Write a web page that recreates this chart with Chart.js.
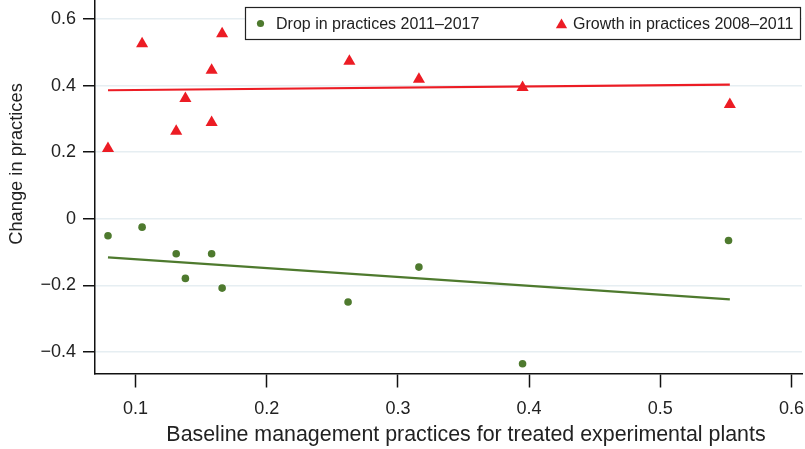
<!DOCTYPE html>
<html>
<head>
<meta charset="utf-8">
<script src="https://cdn.jsdelivr.net/npm/chart.js@4/dist/chart.umd.min.js"></script>
<style>
  html, body { margin: 0; padding: 0; background: #fff; }
  #wrap { width: 805px; height: 449px; }
</style>
</head>
<body>
<div id="wrap"><canvas id="chart"></canvas></div>
<script>
// scatter data
const dropX = [0.079, 0.105, 0.131, 0.138, 0.158, 0.166, 0.262, 0.316, 0.395, 0.552];
const dropY = [-0.051, -0.025, -0.105, -0.179, -0.105, -0.208, -0.250, -0.145, -0.435, -0.065];
const growthX = [0.079, 0.105, 0.131, 0.138, 0.158, 0.158, 0.166, 0.263, 0.316, 0.395, 0.553];
const growthY = [0.211, 0.526, 0.263, 0.361, 0.446, 0.289, 0.556, 0.473, 0.419, 0.394, 0.343];

// fitted lines (end points)
const fitX = [0.079, 0.553];
const dropFit = [-0.116, -0.242];
const growthFit = [0.386, 0.403];

const xTicks = [0.1, 0.2, 0.3, 0.4, 0.5, 0.6];
const yTicks = [-0.4, -0.2, 0, 0.2, 0.4, 0.6];
const seriesLabels = ['Drop in practices 2011\u20132017', 'Growth in practices 2008\u20132011'];
const xTitle = 'Baseline management practices for treated experimental plants';
const yTitle = 'Change in practices';

const green = '#4e7a2e';
const red = '#ec1c24';
const fontFam = '"Liberation Sans", Arial, Helvetica, sans-serif';

const pts = (xs, ys) => xs.map((x, i) => ({ x, y: ys[i] }));
const fmt = v => {
    const r = Math.round(v * 10) / 10;
    if (r === 0) return '0';
    return (r < 0 ? '\u2212' : '') + Math.abs(r).toFixed(1);
};

// legend box inside the plot + axis titles placed like the original
const boxLegend = {
    id: 'boxLegend',
    afterDraw(chart) {
        const ctx = chart.ctx;
        ctx.save();
        ctx.strokeStyle = '#222'; ctx.lineWidth = 1.2;
        ctx.fillStyle = '#fff';
        ctx.fillRect(245, 7, 555, 32);
        ctx.strokeRect(245.5, 7.5, 555, 32);
        const items = [
            { style: 'circle', r: 3.6, color: green, mx: 260.5, my: 23.5, tx: 276, text: seriesLabels[0] },
            { style: 'triangle', r: 6.5, color: red, mx: 561.5, my: 25, tx: 573, text: seriesLabels[1] }
        ];
        ctx.font = '16px ' + fontFam;
        ctx.textBaseline = 'middle';
        items.forEach(it => {
            ctx.fillStyle = it.color; ctx.strokeStyle = it.color;
            Chart.helpers.drawPoint(ctx, { pointStyle: it.style, radius: it.r, rotation: 0, borderWidth: 0 }, it.mx, it.my);
            ctx.fillStyle = '#222';
            ctx.fillText(it.text, it.tx, 24.5);
        });

        ctx.fillStyle = '#222';
        ctx.textAlign = 'center';
        ctx.font = '21.4px ' + fontFam;
        ctx.fillText(xTitle, 466, 435);
        ctx.translate(16.5, 164);
        ctx.rotate(-Math.PI / 2);
        ctx.font = '18.3px ' + fontFam;
        ctx.fillText(yTitle, 0, 0);
        ctx.restore();
    }
};

new Chart(document.getElementById('chart'), {
    type: 'scatter',
    data: {
        datasets: [
            { label: seriesLabels[0] + ' fit', data: pts(fitX, dropFit), showLine: true, borderColor: green, borderWidth: 2.2, pointRadius: 0, order: 1 },
            { label: seriesLabels[1] + ' fit', data: pts(fitX, growthFit), showLine: true, borderColor: red, borderWidth: 2.2, pointRadius: 0, order: 2 },
            { label: seriesLabels[0], data: pts(dropX, dropY), pointStyle: 'circle', pointRadius: 3.8, backgroundColor: green, borderColor: green, borderWidth: 0, order: 3 },
            { label: seriesLabels[1], data: pts(growthX, growthY), pointStyle: 'triangle', pointRadius: 7, backgroundColor: red, borderColor: red, borderWidth: 0, order: 4 }
        ]
    },
    options: {
        responsive: true,
        maintainAspectRatio: false,
        animation: false,
        layout: { autoPadding: false, padding: { left: 0, right: 3, top: 0, bottom: 0 } },
        plugins: { legend: { display: false }, tooltip: { enabled: false } },
        scales: {
            x: {
                type: 'linear', min: 0.0691, max: 0.608,
                afterBuildTicks: s => { s.ticks = xTicks.map(v => ({ value: v })); },
                afterFit: s => { s.height = 75.5; s.paddingLeft = 0; s.paddingRight = 0; },
                border: { color: '#111', width: 1.5 },
                grid: { drawOnChartArea: false, drawTicks: true, tickLength: 14, tickColor: '#111', tickWidth: 1.5 },
                ticks: { callback: fmt, color: '#222', padding: 11, font: { size: 18, family: fontFam } }
            },
            y: {
                type: 'linear', min: -0.4645, max: 0.657,
                afterBuildTicks: s => { s.ticks = yTicks.map(v => ({ value: v })); },
                afterFit: s => { s.width = 95; s.paddingTop = 0; s.paddingBottom = 0; },
                border: { color: '#111', width: 1.5 },
                grid: { color: '#e6eef2', lineWidth: 1.5, drawTicks: true, tickLength: 12, tickColor: '#111', tickWidth: 1.5 },
                ticks: { callback: fmt, color: '#222', padding: 7, font: { size: 18, family: fontFam } }
            }
        }
    },
    plugins: [boxLegend]
});
</script>
</body>
</html>
